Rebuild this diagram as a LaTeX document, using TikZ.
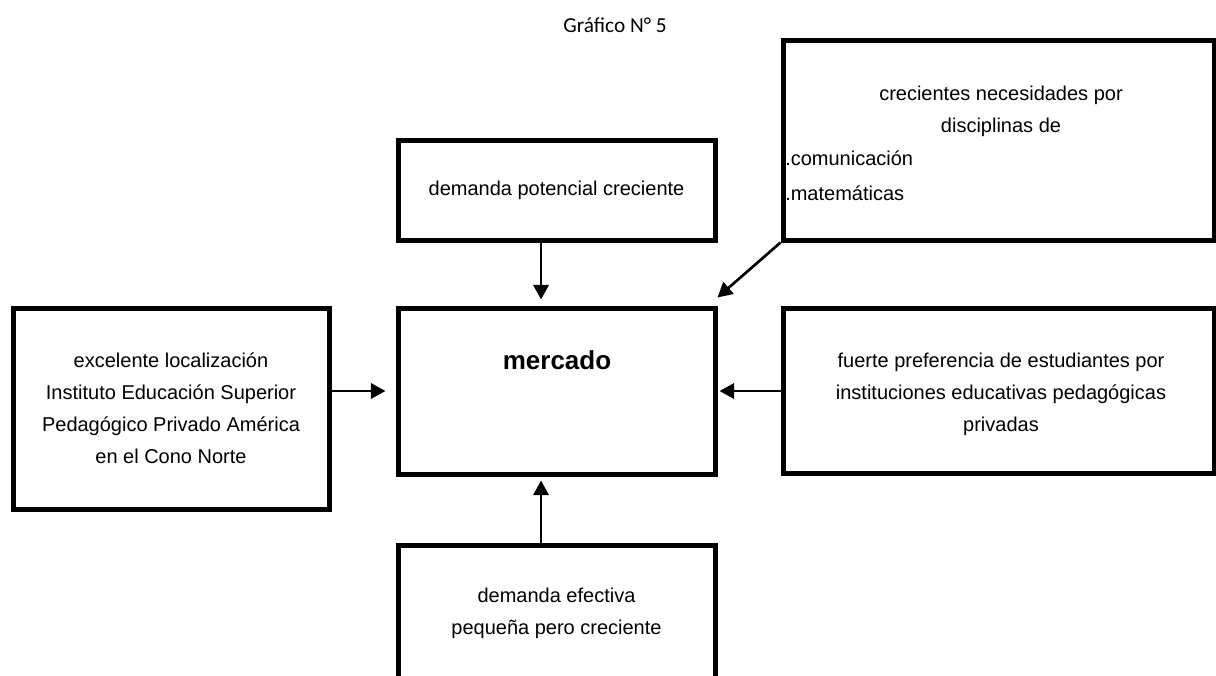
\documentclass[tikz,border=0pt]{standalone}
\usepackage{fontspec}
\setmainfont{Liberation Sans}
\newfontfamily\titlefont{Carlito}
\usetikzlibrary{arrows.meta}
\tikzset{
  box/.style={draw, line width=3.75pt, inner sep=0pt, align=center,
    font=\fontsize{15pt}{24pt}\selectfont},
  txt/.style={inner sep=0pt, align=center, font=\fontsize{15pt}{24pt}\selectfont},
  arr/.style={line width=2pt, -{Triangle[length=11pt,width=11.5pt]}},
}
\begin{document}
\begin{tikzpicture}[x=0.75pt,y=-0.75pt]
\useasboundingbox (0,0) rectangle (1216,675);
\fill[white] (0,0) rectangle (1216,675);
\clip (0,0) rectangle (1216,675);

\node[font=\titlefont\fontsize{16pt}{19pt}\selectfont, inner sep=0pt] (title) at (615,25) {Gráfico N° 5};

% boxes
\node[box, minimum width=237.75pt, minimum height=75pt] (dpc) at (556.5,190) {demanda potencial creciente};
\node[box, minimum width=323.25pt, minimum height=150pt] (tr) at (998.5,140) {};
\node[box, minimum width=237.75pt, minimum height=124.5pt] (merc) at (556.5,391) {};
\node[box, minimum width=237pt, minimum height=150.75pt] (left) at (171,408.5)
  {excelente localización\\Instituto Educación Superior\\Pedagógico Privado América\\en el Cono Norte};
\node[box, minimum width=323.25pt, minimum height=123.75pt] (right) at (998.5,390.5) {};
\node[box, minimum width=237.75pt, minimum height=116.25pt] (bot) at (556.5,622.5) {};

% texts inside boxes
\node[txt] (trl1) at (1001,95) {crecientes necesidades por};
\node[txt] (trl2) at (1001,127) {disciplinas de};
\node[txt, anchor=west] (trl3) at (785,158) {.comunicación};
\node[txt, anchor=west] (trl4) at (785,193) {.matemáticas};
\node[inner sep=0pt, font=\bfseries\fontsize{19.5pt}{24pt}\selectfont] (mtxt) at (557,360) {mercado};
\node[txt] (rtxt) at (1001,394) {fuerte preferencia de estudiantes por\\instituciones educativas pedagógicas\\privadas};
\node[txt] (btxt) at (556.5,613) {demanda efectiva\\pequeña pero creciente};

% connectors
\draw[arr, shorten >=4.5pt] ([xshift=-11.6pt]dpc.south) -- ([xshift=-11.6pt]merc.north);
\draw[arr] (tr.south west) -- ([yshift=6pt]merc.north east);
\draw[arr, shorten >=7.5pt] (left.east |- merc.west) -- (merc.west);
\draw[arr, shorten >=1.5pt] (right.west |- merc.east) -- (merc.east);
\draw[arr, shorten >=3pt] ([xshift=-11.6pt]bot.north) -- ([xshift=-11.6pt]merc.south);
\end{tikzpicture}
\end{document}
